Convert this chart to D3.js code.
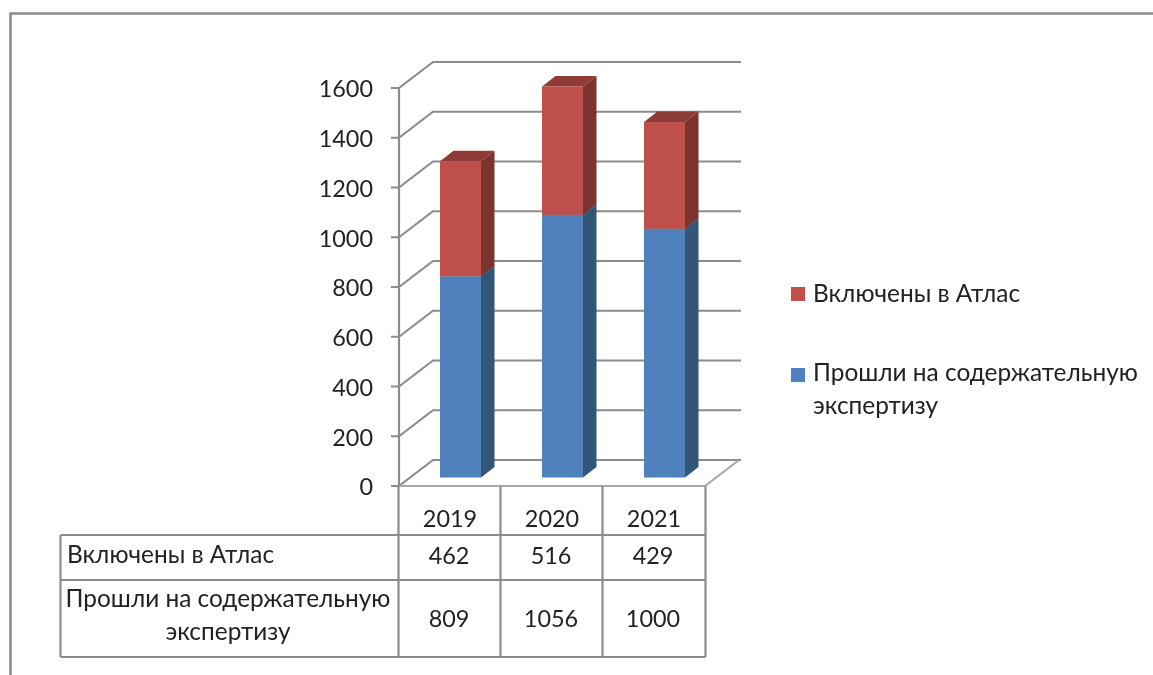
<!DOCTYPE html>
<html><head><meta charset="utf-8">
<style>html,body{margin:0;padding:0;background:#fff;overflow:hidden}svg{display:block}text{font-family:"Lato","Open Sans",sans-serif;fill:#222}</style>
<script src="https://cdn.jsdelivr.net/npm/d3@7/dist/d3.min.js"></script>
</head><body><div id="c"></div>
<script>
const years = ["2019","2020","2021"];
const included = [462,516,429];
const passed = [809,1056,1000];
const includedName = "Включены в Атлас";
const passedNameLines = ["Прошли на содержательную","экспертизу"];
const ticks = [0,200,400,600,800,1000,1200,1400,1600];
const colors = {included:{front:"#BE504C",side:"#7C312E",top:"#8F3A37"},passed:{front:"#4F81BD",side:"#315578",top:"#3A6490"}};
const line = "#8c8c8c";
const FS = 23.4, LFS = 24.4;

const W=1153,H=675;
const svg=d3.select("#c").append("svg").attr("width",W).attr("height",H);
svg.append("rect").attr("width",W).attr("height",H).attr("fill","#fff");
const defs=svg.append("defs");
defs.append("filter").attr("id","soft").append("feGaussianBlur").attr("stdDeviation",0.5);
const root=svg.append("g").attr("filter","url(#soft)");

// frame
root.append("path").attr("d",`M10.5,${H}V13.5H${W}`).attr("fill","none").attr("stroke",line).attr("stroke-width",2.6);

const y=d3.scaleLinear().domain([0,1600]).range([486,88]);
const x=d3.scaleBand().domain(years).range([399,705]);
const wallDX=34,wallDY=-26,backEnd=741;
const barDX=13.5,barDY=-10.5,barInset=8.5,barShift=41,barW=41;

const grid=root.append("g").attr("fill","none").attr("stroke",line).attr("stroke-width",2.2);
ticks.forEach(t=>{
  grid.append("path").attr("d",d3.line()([[399-8,y(t)],[399,y(t)],[399+wallDX,y(t)+wallDY],[backEnd,y(t)+wallDY]]));
});
grid.append("path").attr("d",d3.line()([[399,y(0)],[399,y(1600)]]));
grid.append("path").attr("d",d3.line()([[399,y(0)],[705,y(0)],[705+wallDX,y(0)+wallDY]])).attr("stroke","#a8a8a8");

root.append("g").selectAll("text").data(ticks).join("text")
  .attr("x",373).attr("y",d=>y(d)+1).attr("dy","0.36em").attr("text-anchor","end")
  .attr("font-size",FS).text(d=>d);

// stacked 3D columns
const rows=years.map((yr,i)=>({yr,passed:passed[i],included:included[i]}));
const series=d3.stack().keys(["passed","included"])(rows);
const bars=root.append("g");
series.forEach(s=>{
  const c=colors[s.key];
  s.forEach(d=>{
    const x0=x(d.data.yr)+barShift, x1=x0+barW, y0=y(d[0])-barInset, y1=y(d[1])-barInset;
    const g=bars.append("g");
    g.append("path").attr("fill",c.side).attr("d",d3.line()([[x1,y0],[x1+barDX,y0+barDY],[x1+barDX,y1+barDY],[x1,y1]]));
    g.append("path").attr("fill",c.top).attr("d",d3.line()([[x0,y1],[x0+barDX,y1+barDY],[x1+barDX,y1+barDY],[x1,y1]]));
    g.append("rect").attr("x",x0).attr("y",y1).attr("width",barW).attr("height",y0-y1).attr("fill",c.front);
  });
});

// data table
const tbl=root.append("g").attr("stroke",line).attr("stroke-width",2.2).attr("fill","none");
const rowY=[486,535,580,657], left=60.5, colX=[398.5,500.5,602.5,705.5];
[1,2,3].forEach(i=>tbl.append("line").attr("x1",left).attr("x2",colX[3]).attr("y1",rowY[i]).attr("y2",rowY[i]));
tbl.append("line").attr("x1",left).attr("x2",left).attr("y1",rowY[1]).attr("y2",rowY[3]);
colX.forEach(cx=>tbl.append("line").attr("x1",cx).attr("x2",cx).attr("y1",rowY[0]).attr("y2",rowY[3]));

const cell=root.append("g").attr("font-size",FS).attr("text-anchor","middle");
const cx=d=>x(d)+x.bandwidth()/2;
cell.selectAll(".h").data(years).join("text").attr("class","h").attr("x",cx).attr("y",527).text(d=>d);
cell.selectAll(".a").data(rows).join("text").attr("class","a").attr("x",d=>cx(d.yr)-1).attr("y",564).text(d=>d.included);
cell.selectAll(".b").data(rows).join("text").attr("class","b").attr("x",d=>cx(d.yr)-1).attr("y",627).text(d=>d.passed);
root.append("text").attr("x",67).attr("y",563).attr("font-size",LFS).text(includedName);
root.append("g").attr("text-anchor","middle").attr("font-size",LFS).selectAll("text").data(passedNameLines).join("text")
  .attr("x",228).attr("y",(d,i)=>607+i*33).text(d=>d);

// legend
const lg=root.append("g").attr("font-size",LFS);
lg.append("rect").attr("x",791).attr("y",287).attr("width",14).attr("height",14).attr("fill",colors.included.front);
lg.append("text").attr("x",813).attr("y",302).text(includedName);
lg.append("rect").attr("x",791).attr("y",368).attr("width",14).attr("height",14).attr("fill",colors.passed.front);
lg.selectAll(".l").data(passedNameLines).join("text").attr("class","l").attr("x",813).attr("y",(d,i)=>381+i*33).text(d=>d);
</script></body></html>
